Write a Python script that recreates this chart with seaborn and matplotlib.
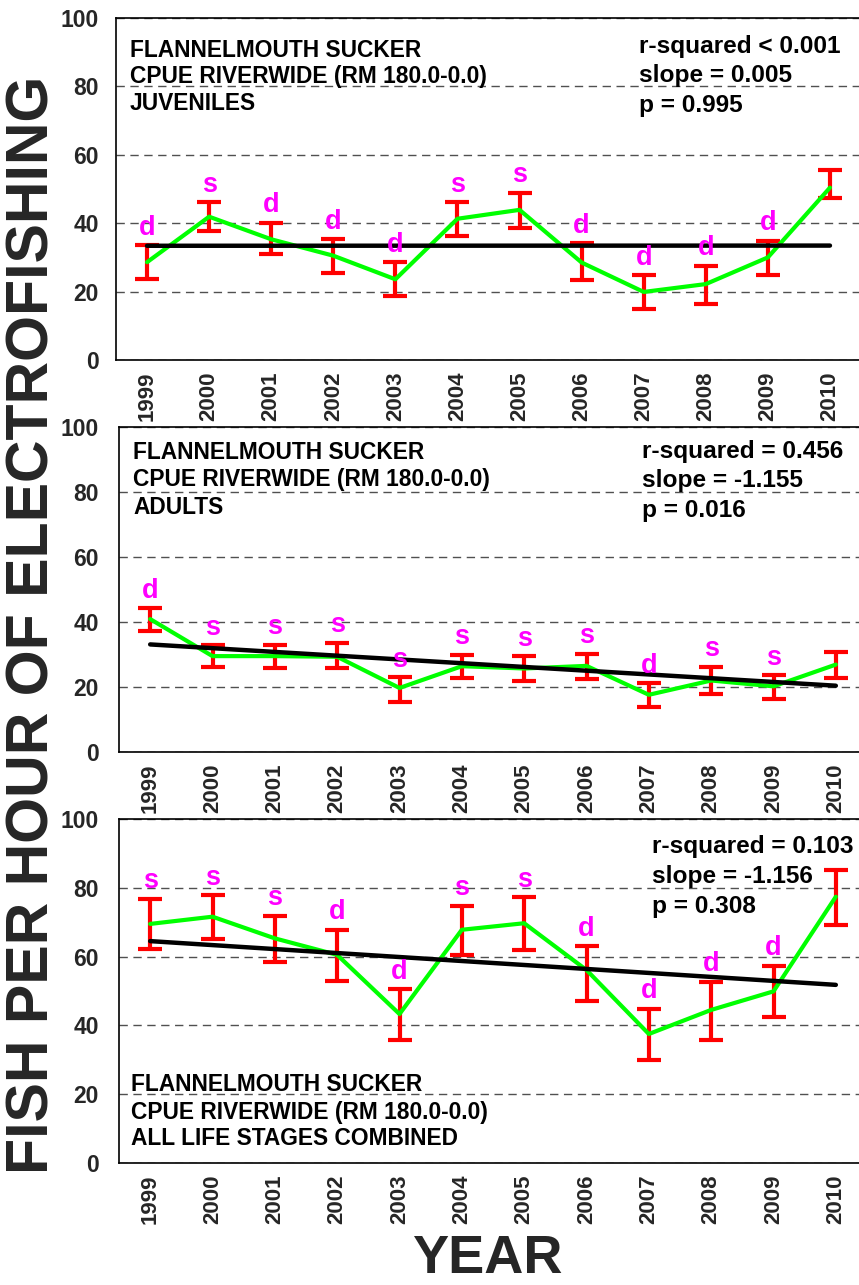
import numpy as np
import pandas as pd
import matplotlib
matplotlib.use("Agg")
import matplotlib.pyplot as plt
import seaborn as sns

# ---- data -------------------------------------------------------------
years = list(range(1999, 2011))

juv_mean = [28.6, 41.9, 35.3, 30.5, 23.6, 41.3, 43.9, 28.5, 19.9, 22.2, 30.0, 50.4]
juv_upper = [33.5, 46.1, 40.2, 35.4, 28.6, 46.1, 48.9, 34.2, 24.8, 27.6, 34.9, 55.6]
juv_lower = [23.8, 37.8, 31.0, 25.4, 18.7, 36.3, 38.6, 23.4, 14.8, 16.5, 24.8, 47.5]
juv_flags = ['d', 's', 'd', 'd', 'd', 's', 's', 'd', 'd', 'd', 'd', '']

adult_mean = [40.9, 29.5, 29.5, 29.3, 19.7, 26.4, 25.7, 26.5, 17.6, 22.0, 20.2, 26.9]
adult_upper = [44.3, 32.8, 33.0, 33.6, 23.1, 30.0, 29.4, 30.3, 21.2, 26.2, 23.7, 30.8]
adult_lower = [37.1, 26.2, 26.0, 25.7, 15.3, 22.7, 21.7, 22.4, 13.8, 17.8, 16.3, 22.9]
adult_flags = ['d', 's', 's', 's', 's', 's', 's', 's', 'd', 's', 's', '']

all_mean = [69.5, 71.6, 65.3, 60.5, 43.3, 67.8, 69.7, 56.1, 37.5, 44.5, 49.9, 77.4]
all_upper = [76.8, 77.9, 71.9, 67.8, 50.5, 74.8, 77.2, 63.1, 44.8, 52.7, 57.4, 85.2]
all_lower = [62.3, 65.0, 58.4, 52.8, 35.8, 60.5, 62.0, 47.2, 30.0, 35.8, 42.3, 69.3]
all_flags = ['s', 's', 's', 'd', 'd', 's', 's', 'd', 'd', 'd', 'd', '']

# regression: value at first year and slope per year
trend_start = [33.4, 33.1, 64.5]
trend_slope = [0.005, -1.155, -1.156]

stage_labels = ["JUVENILES", "ADULTS", "ALL LIFE STAGES COMBINED"]
stats_text = [
    ["r-squared < 0.001", "slope = 0.005", "p = 0.995"],
    ["r-squared = 0.456", "slope = -1.155", "p = 0.016"],
    ["r-squared = 0.103", "slope = -1.156", "p = 0.308"],
]
title_lines = ["FLANNELMOUTH SUCKER", "CPUE RIVERWIDE (RM 180.0-0.0)"]
y_ticks = [0, 20, 40, 60, 80, 100]

# ---- style ------------------------------------------------------------
sns.set_style("white")
plt.rcParams["font.family"] = ["Liberation Sans", "DejaVu Sans"]
plt.rcParams["font.weight"] = "bold"

W, H = 859, 1285
fig = plt.figure(figsize=(W / 100, H / 100), dpi=100)
fig.patch.set_facecolor("white")


def frac_box(left, top, right, bottom):
    return [left / W, 1 - bottom / H, (right - left) / W, (bottom - top) / H]


def fig_text(x, y, s, **kw):
    fig.text(x / W, 1 - y / H, s, va="baseline", ha="left",
             fontweight="bold", color="black", **kw)


panels = [
    dict(box=frac_box(116, 18, 861, 360), mean=juv_mean, up=juv_upper,
         lo=juv_lower, flags=juv_flags),
    dict(box=frac_box(119, 427, 867, 752), mean=adult_mean, up=adult_upper,
         lo=adult_lower, flags=adult_flags),
    dict(box=frac_box(119, 819, 867, 1163), mean=all_mean, up=all_upper,
         lo=all_lower, flags=all_flags),
]

for i, p in enumerate(panels):
    ax = fig.add_axes(p["box"])
    ax.set_facecolor("white")
    mean = np.array(p["mean"])
    up = np.array(p["up"])
    lo = np.array(p["lo"])

    # grid
    for gy in y_ticks:
        ax.axhline(gy, color="#505050", lw=1.0, ls=(0, (6, 4)), zorder=2)

    # confidence intervals
    ax.errorbar(years, mean, yerr=[mean - lo, up - mean], fmt="none",
                ecolor="#FF0000", elinewidth=3.0, capsize=8.5, capthick=3.0,
                zorder=3)

    df = pd.DataFrame({"year": years, "cpue": mean})
    sns.lineplot(data=df, x="year", y="cpue", ax=ax, color="#00FF00",
                 lw=3.0, zorder=4)

    trend = trend_start[i] + trend_slope[i] * (np.array(years) - years[0])
    tdf = pd.DataFrame({"year": years, "fit": trend})
    sns.lineplot(data=tdf, x="year", y="fit", ax=ax, color="black", lw=3.2,
                 zorder=5, solid_capstyle="round")

    for yr, top, fl in zip(years, up, p["flags"]):
        if fl:
            ax.annotate(fl, (yr, top), xytext=(0, 7.5),
                        textcoords="offset points", ha="center",
                        va="baseline", color="#FF00FF", fontsize=19.5,
                        fontweight="bold", zorder=6)

    ax.set_xlim(1998.5, 2010.5)
    ax.set_ylim(0, 100)
    ax.set_xticks(years)
    ax.set_xticklabels([str(y) for y in years], rotation=90, fontsize=16,
                       fontweight="bold")
    ax.set_yticks(y_ticks)
    ax.set_yticklabels([str(v) for v in y_ticks], fontsize=16.5,
                       fontweight="bold")
    ax.tick_params(axis="x", length=0, pad=8.5)
    ax.tick_params(axis="y", length=0, pad=12.5 if i == 0 else 14.5)
    ax.set_xlabel("")
    ax.set_ylabel("")
    for side in ["left", "bottom", "top"]:
        ax.spines[side].set_visible(True)
        ax.spines[side].set_color("black")
        ax.spines[side].set_linewidth(1.2)
    ax.spines["right"].set_visible(False)

# panel annotations
left_blocks = [
    (130, [57.3, 83.5, 110.0]),
    (133, [459.3, 486.0, 514.0]),
    (131, [1090.7, 1119.0, 1145.0]),
]
stat_blocks = [
    (639, [52.7, 81.7, 111.7]),
    (641.7, [458.3, 487.3, 517.3]),
    (651.7, [853.3, 883.3, 913.3]),
]
for i in range(3):
    x0, ys = left_blocks[i]
    for s, yy in zip(title_lines + [stage_labels[i]], ys):
        fig_text(x0, yy, s, fontsize=16.4)
    x1, ys = stat_blocks[i]
    for s, yy in zip(stats_text[i], ys):
        fig_text(x1, yy, s, fontsize=17.6)

fig.text(33 / W, 1 - 625 / H, "FISH PER HOUR OF ELECTROFISHING",
         rotation=90, ha="center", va="center", fontsize=42.5,
         fontweight="bold")
fig.text(487 / W, 1 - 1284 / H, "YEAR", ha="center", va="bottom",
         fontsize=39, fontweight="bold")

fig.savefig("out.png", dpi=100, facecolor="white")
